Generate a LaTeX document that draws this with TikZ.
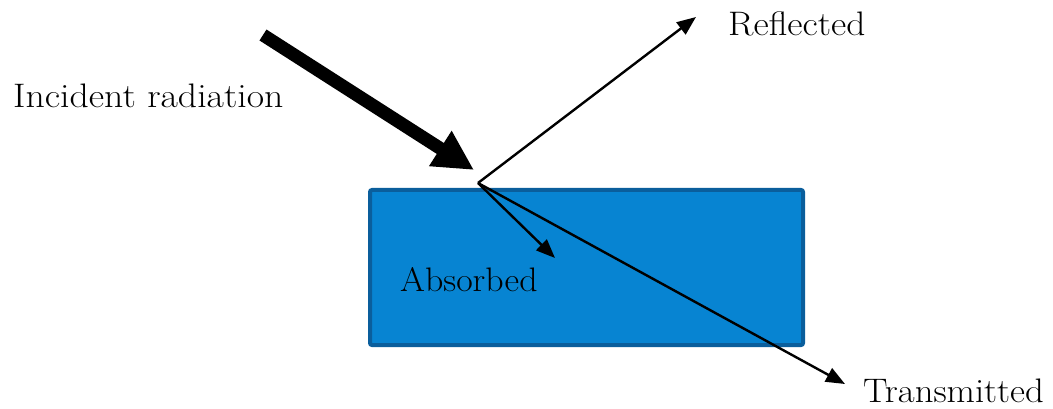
\documentclass[tikz,border=0pt]{standalone}
\usetikzlibrary{arrows.meta}
\newcommand{\wide}[2][1.11]{\scalebox{#1}[1]{#2}}
\begin{document}
\begin{tikzpicture}[x=1pt,y=-1pt,
  lbl/.style={font=\fontsize{34}{40}\selectfont, inner sep=0pt},
  ray/.style={line width=2.4pt, -{Triangle[length=19pt,width=15pt]}},
  bigray/.style={line width=13pt, -{Triangle[length=40pt,width=39pt]}}]
\useasboundingbox (0,0) rectangle (1053,409);
\definecolor{slab}{HTML}{0784D2}
\definecolor{slabedge}{HTML}{0A5E9C}
\node[draw=slabedge, fill=slab, line width=4pt, rounded corners=2pt, minimum width=433pt, minimum height=155pt, inner sep=0pt, outer sep=0pt, anchor=north west] (slab) at (370,190) {};
\coordinate (src) at (263,35);
\coordinate (hit) at (474,170);
\coordinate (o) at (478,183);
\coordinate (r) at (696,17);
\coordinate (t) at (845,384);
\coordinate (a) at (555,258);
\draw[bigray] (src) -- (hit);
\draw[ray] (o) -- (r);
\draw[ray] (o) -- (t);
\draw[ray] (o) -- (a);
\node[lbl, anchor=west] (inc) at (13,96) {\wide{Incident radiation}};
\node[lbl, anchor=west] (refl) at (728,24) {\wide[1.10]{Reflected}};
\node[lbl, anchor=west] (abs) at (400,280) {\wide[1.055]{Absorbed}};
\node[lbl, anchor=west] (tr) at (863,391) {\wide[1.08]{Transmitted}};
\end{tikzpicture}
\end{document}
